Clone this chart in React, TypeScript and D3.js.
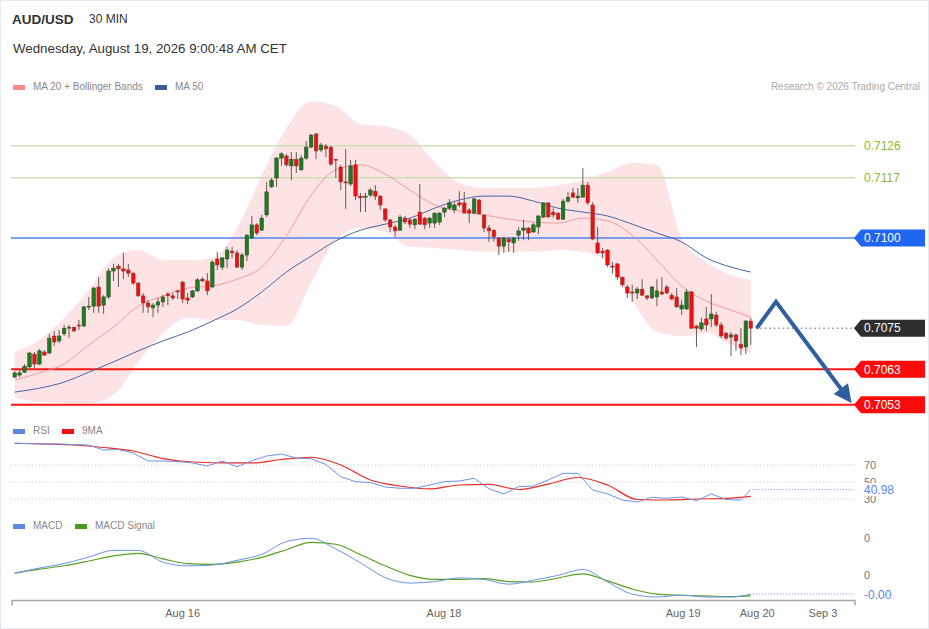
import { useEffect, useRef } from 'react';
import * as d3 from 'd3';

const FONT = "'Liberation Sans', Arial, sans-serif";

// 30 min candles, AUD/USD
const opens = [
  0.70608, 0.70614, 0.70622, 0.70637, 0.70673, 0.70645, 0.70679, 0.70676, 0.70724, 0.70710,
  0.70730, 0.70746, 0.70749, 0.70755, 0.70752, 0.70806, 0.70808, 0.70862, 0.70811, 0.70834,
  0.70907, 0.70921, 0.70913, 0.70910, 0.70901, 0.70873, 0.70837, 0.70817, 0.70803, 0.70811,
  0.70820, 0.70842, 0.70837, 0.70851, 0.70876, 0.70831, 0.70834, 0.70851, 0.70884, 0.70879,
  0.70862, 0.70941, 0.70918, 0.70941, 0.70963, 0.70958, 0.70918, 0.70952, 0.71000, 0.71037,
  0.71022, 0.71065, 0.71144, 0.71169, 0.71225, 0.71231, 0.71203, 0.71222, 0.71192, 0.71225,
  0.71256, 0.71293, 0.71248, 0.71259, 0.71256, 0.71222, 0.71200, 0.71158, 0.71152, 0.71206,
  0.71118, 0.71115, 0.71121, 0.71132, 0.71118, 0.71082, 0.71051, 0.71031, 0.71022, 0.71056,
  0.71051, 0.71037, 0.71073, 0.71056, 0.71042, 0.71042, 0.71045, 0.71073, 0.71084, 0.71079,
  0.71099, 0.71099, 0.71079, 0.71070, 0.71107, 0.71065, 0.71028, 0.71022, 0.71000, 0.70977,
  0.70997, 0.70986, 0.71008, 0.71022, 0.71028, 0.71017, 0.71031, 0.71059, 0.71099, 0.71073,
  0.71070, 0.71053, 0.71104, 0.71127, 0.71113, 0.71115, 0.71149, 0.71093, 0.70986, 0.70963,
  0.70966, 0.70921, 0.70927, 0.70890, 0.70862, 0.70848, 0.70845, 0.70856, 0.70837, 0.70831,
  0.70834, 0.70848, 0.70862, 0.70839, 0.70834, 0.70800, 0.70800, 0.70848, 0.70752, 0.70744,
  0.70772, 0.70772, 0.70783, 0.70755, 0.70732, 0.70721, 0.70727, 0.70701, 0.70693, 0.70766,
];
const highs = [
  0.70625, 0.70628, 0.70645, 0.70679, 0.70679, 0.70687, 0.70684, 0.70730, 0.70738, 0.70741,
  0.70755, 0.70755, 0.70749, 0.70769, 0.70808, 0.70834, 0.70862, 0.70890, 0.70839, 0.70915,
  0.70927, 0.70927, 0.70958, 0.70927, 0.70904, 0.70876, 0.70845, 0.70825, 0.70817, 0.70831,
  0.70839, 0.70848, 0.70845, 0.70853, 0.70879, 0.70845, 0.70853, 0.70887, 0.70890, 0.70901,
  0.70938, 0.70961, 0.70946, 0.70975, 0.70975, 0.70966, 0.70958, 0.71011, 0.71062, 0.71042,
  0.71065, 0.71158, 0.71169, 0.71228, 0.71242, 0.71237, 0.71242, 0.71242, 0.71234, 0.71273,
  0.71293, 0.71296, 0.71268, 0.71265, 0.71259, 0.71222, 0.71206, 0.71251, 0.71220, 0.71220,
  0.71127, 0.71127, 0.71141, 0.71149, 0.71121, 0.71084, 0.71053, 0.71037, 0.71065, 0.71062,
  0.71056, 0.71056, 0.71152, 0.71059, 0.71059, 0.71073, 0.71073, 0.71087, 0.71110, 0.71101,
  0.71132, 0.71130, 0.71084, 0.71113, 0.71110, 0.71065, 0.71037, 0.71025, 0.71003, 0.71003,
  0.71003, 0.71003, 0.71031, 0.71051, 0.71031, 0.71042, 0.71065, 0.71101, 0.71099, 0.71084,
  0.71073, 0.71110, 0.71130, 0.71141, 0.71141, 0.71197, 0.71158, 0.71101, 0.71031, 0.70972,
  0.70969, 0.70932, 0.70930, 0.70890, 0.70868, 0.70868, 0.70862, 0.70884, 0.70839, 0.70865,
  0.70884, 0.70890, 0.70868, 0.70845, 0.70859, 0.70825, 0.70856, 0.70851, 0.70755, 0.70775,
  0.70806, 0.70842, 0.70792, 0.70763, 0.70735, 0.70735, 0.70730, 0.70746, 0.70769, 0.70775,
];
const lows = [
  0.70606, 0.70608, 0.70620, 0.70634, 0.70634, 0.70642, 0.70668, 0.70673, 0.70696, 0.70704,
  0.70724, 0.70718, 0.70735, 0.70741, 0.70749, 0.70797, 0.70789, 0.70789, 0.70786, 0.70828,
  0.70879, 0.70862, 0.70884, 0.70890, 0.70868, 0.70834, 0.70789, 0.70789, 0.70777, 0.70789,
  0.70806, 0.70811, 0.70825, 0.70828, 0.70817, 0.70814, 0.70831, 0.70848, 0.70876, 0.70839,
  0.70859, 0.70910, 0.70910, 0.70915, 0.70944, 0.70915, 0.70910, 0.70935, 0.70997, 0.71008,
  0.71020, 0.71059, 0.71141, 0.71144, 0.71203, 0.71200, 0.71163, 0.71183, 0.71189, 0.71220,
  0.71254, 0.71222, 0.71242, 0.71228, 0.71203, 0.71169, 0.71135, 0.71082, 0.71146, 0.71107,
  0.71073, 0.71073, 0.71115, 0.71107, 0.71079, 0.71045, 0.71017, 0.71003, 0.71020, 0.71039,
  0.71028, 0.71025, 0.71037, 0.71025, 0.71028, 0.71028, 0.71037, 0.71059, 0.71079, 0.71070,
  0.71087, 0.71070, 0.71042, 0.71068, 0.71065, 0.71017, 0.70989, 0.70989, 0.70952, 0.70958,
  0.70961, 0.70958, 0.70992, 0.70994, 0.70994, 0.71014, 0.71011, 0.71056, 0.71059, 0.71056,
  0.71051, 0.71051, 0.71099, 0.71113, 0.71099, 0.71115, 0.71093, 0.70994, 0.70955, 0.70944,
  0.70918, 0.70899, 0.70882, 0.70862, 0.70831, 0.70820, 0.70828, 0.70837, 0.70825, 0.70828,
  0.70808, 0.70839, 0.70842, 0.70825, 0.70803, 0.70783, 0.70797, 0.70744, 0.70693, 0.70738,
  0.70738, 0.70749, 0.70749, 0.70718, 0.70713, 0.70668, 0.70682, 0.70670, 0.70673, 0.70699,
];
const closes = [
  0.70620, 0.70620, 0.70639, 0.70676, 0.70645, 0.70682, 0.70670, 0.70718, 0.70707, 0.70724,
  0.70746, 0.70749, 0.70738, 0.70752, 0.70806, 0.70808, 0.70859, 0.70808, 0.70834, 0.70907,
  0.70915, 0.70913, 0.70907, 0.70901, 0.70873, 0.70837, 0.70817, 0.70806, 0.70811, 0.70820,
  0.70834, 0.70837, 0.70831, 0.70848, 0.70828, 0.70825, 0.70851, 0.70882, 0.70879, 0.70851,
  0.70932, 0.70924, 0.70944, 0.70966, 0.70958, 0.70918, 0.70952, 0.71008, 0.71037, 0.71014,
  0.71056, 0.71130, 0.71163, 0.71225, 0.71237, 0.71206, 0.71222, 0.71203, 0.71225, 0.71256,
  0.71290, 0.71245, 0.71262, 0.71251, 0.71208, 0.71220, 0.71158, 0.71155, 0.71203, 0.71118,
  0.71113, 0.71118, 0.71135, 0.71118, 0.71093, 0.71051, 0.71031, 0.71020, 0.71059, 0.71045,
  0.71039, 0.71053, 0.71039, 0.71037, 0.71056, 0.71070, 0.71070, 0.71084, 0.71099, 0.71093,
  0.71093, 0.71070, 0.71070, 0.71110, 0.71068, 0.71028, 0.71020, 0.71003, 0.70977, 0.71000,
  0.70989, 0.71000, 0.71020, 0.71028, 0.71014, 0.71037, 0.71062, 0.71099, 0.71059, 0.71065,
  0.71053, 0.71104, 0.71115, 0.71115, 0.71118, 0.71149, 0.71099, 0.70997, 0.70958, 0.70958,
  0.70924, 0.70918, 0.70890, 0.70868, 0.70845, 0.70845, 0.70856, 0.70839, 0.70831, 0.70862,
  0.70851, 0.70842, 0.70845, 0.70828, 0.70806, 0.70811, 0.70848, 0.70746, 0.70746, 0.70761,
  0.70755, 0.70786, 0.70755, 0.70724, 0.70718, 0.70727, 0.70710, 0.70690, 0.70766, 0.70746,
];

// indicators read every 5 candles (0, 5, ... 145, 149)
const bbUpper = [
  0.70679, 0.70713, 0.70775, 0.70853, 0.70944, 0.70966, 0.70938, 0.70938, 0.70944, 0.71028, 0.71177,
  0.71310, 0.71385, 0.71372, 0.71321, 0.71315, 0.71290, 0.71214, 0.71155, 0.71141, 0.71141,
  0.71141, 0.71149, 0.71163, 0.71186, 0.71211, 0.71206, 0.71000, 0.70932, 0.70896, 0.70882,
];
const bbLower = [
  0.70549, 0.70538, 0.70535, 0.70535, 0.70558, 0.70651, 0.70732, 0.70775, 0.70769, 0.70769, 0.70755,
  0.70752, 0.70873, 0.70994, 0.71028, 0.71017, 0.70975, 0.70972, 0.70966, 0.70961, 0.70961,
  0.70961, 0.70966, 0.70961, 0.70930, 0.70825, 0.70735, 0.70724, 0.70732, 0.70699, 0.70676,
];
const ma20 = [
  0.70600, 0.70620, 0.70645, 0.70699, 0.70749, 0.70808, 0.70837, 0.70859, 0.70865, 0.70884, 0.70918,
  0.71006, 0.71121, 0.71192, 0.71206, 0.71180, 0.71135, 0.71093, 0.71076, 0.71065, 0.71053,
  0.71045, 0.71042, 0.71056, 0.71048, 0.71008, 0.70938, 0.70865, 0.70822, 0.70797, 0.70777,
];
const ma50 = [
  0.70566, 0.70577, 0.70594, 0.70622, 0.70651, 0.70682, 0.70710, 0.70735, 0.70766, 0.70800, 0.70848,
  0.70904, 0.70949, 0.70992, 0.71022, 0.71039, 0.71056, 0.71084, 0.71107, 0.71118, 0.71118,
  0.71104, 0.71084, 0.71073, 0.71062, 0.71039, 0.71014, 0.70989, 0.70944, 0.70918, 0.70904,
];
const macd = [
  0.00005, 0.00019, 0.00031, 0.00049, 0.00067, 0.00067, 0.00035, 0.00025, 0.00027, 0.00040, 0.00056,
  0.00091, 0.00100, 0.00071, 0.00033, -0.00007, -0.00022, -0.00018, -0.00008, -0.00012, -0.00025,
  -0.00014, -0.00001, 0.00015, -0.00019, -0.00052, -0.00060, -0.00055, -0.00060, -0.00060, -0.00052,
];
const macdSignal = [
  0.00005, 0.00016, 0.00025, 0.00038, 0.00052, 0.00059, 0.00044, 0.00031, 0.00029, 0.00035, 0.00048,
  0.00069, 0.00089, 0.00084, 0.00055, 0.00025, -0.00001, -0.00012, -0.00012, -0.00010, -0.00018,
  -0.00019, -0.00008, 0.00003, -0.00016, -0.00038, -0.00052, -0.00055, -0.00057, -0.00059, -0.00057,
];

// RSI read every 3 candles, its 9MA every 6
const rsi = [
  95.5, 95.3, 94.7, 94.7, 94.1, 93.5, 87.6, 88.2, 84.1, 74.7, 74.7, 74.1, 72.4, 68.8, 74.7, 68.0, 75.1,
  80.6, 82.9, 78.2, 77.3, 70.6, 56.2, 50.4, 49.4, 44.1, 42.6, 42.6, 46.5, 50.4, 51.2, 54.4, 42.1, 35.9,
  44.5, 45.3, 52.4, 60.2, 60.2, 40.6, 35.9, 28.8, 26.5, 32.0, 30.8, 32.4, 28.0, 35.9, 29.4, 28.8, 40.98,
];
const rsiMa = [
  95.5, 94.7, 93.5, 90.6, 86.5, 77.6, 73.5, 72.6, 72.4, 76.5, 79.1, 70.0, 52.4,
  45.3, 41.8, 46.5, 47.1, 41.2, 47.6, 55.3, 46.5, 29.4, 28.8, 30.0, 30.8, 33.2,
];

const resistLevels = [0.7126, 0.7117];
const pivotLevel = 0.71;
const supportLevels = [0.7063, 0.7053];
const rsiGrid = [70, 50, 30];
const macdTicks = [0.001, 0];

// projected path: candle index, price
const projection = [
  { i: 150.2, p: 0.70746 },
  { i: 154.1, p: 0.7082 },
  { i: 169.4, p: 0.70535 },
];

const xTicks = [
  { label: 'Aug 16', at: 34 },
  { label: 'Aug 18', at: 86.9 },
  { label: 'Aug 19', at: 135.3 },
  { label: 'Aug 20', at: 150.3 },
  { label: 'Sep 3', at: 163.6 },
];

const every = (step: number) => d3.range(0, 149, step).concat([149]);

export default function App() {
  const ref = useRef<SVGSVGElement | null>(null);

  useEffect(() => {
    if (!ref.current) return;
    const svg = d3.select(ref.current);
    svg.selectAll('*').remove();

    const W = 929;
    const H = 629;
    const plotLeft = 11;
    const plotRight = 855;

    const x = d3.scaleLinear().domain([0, 149]).range([14.7, 750.8]);
    const y = d3.scaleLinear().domain([0.7, 0.71]).range([593, 238]);
    const yRsi = d3.scaleLinear().domain([30, 70]).range([499, 465]);
    const yMacd = d3.scaleLinear().domain([0, 0.001]).range([575, 538.3]);

    svg.append('rect').attr('x', 0.5).attr('y', 0.5).attr('width', W - 1).attr('height', H - 1)
      .attr('fill', '#fff').attr('stroke', '#e4e9ee');

    // header
    svg.append('text').attr('x', 12).attr('y', 23.5).attr('font-size', 13.5).attr('font-weight', 'bold')
      .attr('fill', '#333').text('AUD/USD');
    svg.append('text').attr('x', 89).attr('y', 23).attr('font-size', 12).attr('fill', '#333').text('30 MIN');
    svg.append('text').attr('x', 13).attr('y', 53).attr('font-size', 13.3).attr('fill', '#333')
      .text('Wednesday, August 19, 2026 9:00:48 AM CET');

    const legend = (items: { label: string; color: string; x: number }[], ly: number) => {
      items.forEach(it => {
        svg.append('rect').attr('x', it.x).attr('y', ly - 5).attr('width', 12).attr('height', 5).attr('fill', it.color);
        svg.append('text').attr('x', it.x + 20).attr('y', ly).attr('font-size', 10).attr('fill', '#888').text(it.label);
      });
    };
    legend([
      { label: 'MA 20 + Bollinger Bands', color: '#f88a8a', x: 13 },
      { label: 'MA 50', color: '#3b5c99', x: 155 },
    ], 90);
    svg.append('text').attr('x', 920).attr('y', 90).attr('text-anchor', 'end').attr('font-size', 10)
      .attr('fill', '#aaa').text('Research \u00a9 2026 Trading Central');

    // bollinger band
    const bandIdx = every(5);
    const band = bandIdx.map((i, k) => ({ i, hi: bbUpper[k], lo: bbLower[k] }));
    svg.append('path').datum(band)
      .attr('fill', '#fde3e3')
      .attr('d', d3.area<any>().x(d => x(d.i)).y0(d => y(d.lo)).y1(d => y(d.hi)).curve(d3.curveMonotoneX));

    // levels
    const hline = (v: number, color: string, w: number) =>
      svg.append('line').attr('x1', plotLeft).attr('x2', plotRight).attr('y1', y(v)).attr('y2', y(v))
        .attr('stroke', color).attr('stroke-width', w);
    resistLevels.forEach(v => hline(v, '#cddfb6', 1.5));
    hline(pivotLevel, '#4d86ee', 1.5);
    supportLevels.forEach(v => hline(v, '#ff1414', 2));

    const maLine = d3.line<any>().x(d => x(d.i)).y(d => y(d.v)).curve(d3.curveMonotoneX);
    svg.append('path').datum(bandIdx.map((i, k) => ({ i, v: ma20[k] })))
      .attr('fill', 'none').attr('stroke', '#f59a9a').attr('stroke-width', 1).attr('d', maLine);
    svg.append('path').datum(bandIdx.map((i, k) => ({ i, v: ma50[k] })))
      .attr('fill', 'none').attr('stroke', '#4466a6').attr('stroke-width', 1).attr('d', maLine);

    // candles
    const candles = closes.map((c, i) => ({ i, o: opens[i], h: highs[i], l: lows[i], c }));
    const g = svg.append('g');
    g.selectAll('line.wick').data(candles).enter().append('line')
      .attr('x1', d => x(d.i)).attr('x2', d => x(d.i))
      .attr('y1', d => y(d.h)).attr('y2', d => y(d.l))
      .attr('stroke', '#6a5858').attr('stroke-width', 1);
    g.selectAll('rect.body').data(candles).enter().append('rect')
      .attr('x', d => x(d.i) - 1.8).attr('width', 3.6)
      .attr('y', d => y(Math.max(d.o, d.c)))
      .attr('height', d => Math.max(1, Math.abs(y(d.o) - y(d.c))))
      .attr('fill', d => d.c >= d.o ? '#1f7a1f' : '#ee1010')
      .attr('stroke', d => d.c >= d.o ? '#2c4a2c' : '#8c3a3a').attr('stroke-width', 0.5);

    // last price
    const last = closes[closes.length - 1];
    svg.append('line').attr('x1', x(149) + 5).attr('x2', plotRight).attr('y1', y(last)).attr('y2', y(last))
      .attr('stroke', '#555').attr('stroke-width', 1).attr('stroke-dasharray', '1.5,3');

    const tag = (v: number, fill: string) => {
      const ty = y(v);
      svg.append('path')
        .attr('d', `M${plotRight - 1},${ty} L${plotRight + 6},${ty - 8.5} L925,${ty - 8.5} L925,${ty + 8.5} L${plotRight + 6},${ty + 8.5} Z`)
        .attr('fill', fill);
      svg.append('text').attr('x', 864).attr('y', ty + 4.2).attr('font-size', 12).attr('fill', '#fff').text(v.toFixed(4));
    };
    resistLevels.forEach(v =>
      svg.append('text').attr('x', 864).attr('y', y(v) + 4.2).attr('font-size', 12).attr('fill', '#8fb52b').text(v.toFixed(4)));
    tag(pivotLevel, '#1f66f2');
    tag(last, '#2e2e2e');
    supportLevels.forEach(v => tag(v, '#ff0a0a'));

    // projection arrow
    const pts = projection.map(d => [x(d.i), y(d.p)] as [number, number]);
    const [ax, ay] = pts[pts.length - 1];
    const [bx, by] = pts[pts.length - 2];
    const len = Math.hypot(ax - bx, ay - by);
    const ux = (ax - bx) / len, uy = (ay - by) / len;
    const shaft = pts.slice(0, -1).concat([[ax - ux * 12, ay - uy * 12]]);
    svg.append('path').datum(shaft).attr('fill', 'none').attr('stroke', '#2f5f9f').attr('stroke-width', 4)
      .attr('stroke-linejoin', 'miter').attr('d', d3.line());
    svg.append('path')
      .attr('d', `M${ax},${ay} L${ax - ux * 18 - uy * 9},${ay - uy * 18 + ux * 9} L${ax - ux * 18 + uy * 9},${ay - uy * 18 - ux * 9} Z`)
      .attr('fill', '#2f5f9f');

    // RSI panel
    legend([
      { label: 'RSI', color: '#5b86e5', x: 13 },
      { label: '9MA', color: '#ee1111', x: 62 },
    ], 434);
    rsiGrid.forEach(v => {
      svg.append('line').attr('x1', plotLeft).attr('x2', plotRight).attr('y1', yRsi(v)).attr('y2', yRsi(v))
        .attr('stroke', '#c4c4c4').attr('stroke-dasharray', '1,2.5');
      svg.append('text').attr('x', 864).attr('y', yRsi(v) + 4).attr('font-size', 11).attr('fill', '#777').text(v);
    });
    const rsiIdx = every(3);
    const rsiMaIdx = every(6);
    svg.append('path').datum(rsiMaIdx.map((i, k) => ({ i, v: rsiMa[k] })))
      .attr('fill', 'none').attr('stroke', '#ee2a22').attr('stroke-width', 1.2)
      .attr('d', d3.line<any>().x(d => x(d.i)).y(d => yRsi(d.v)).curve(d3.curveMonotoneX));
    svg.append('path').datum(rsiIdx.map((i, k) => ({ i, v: rsi[k] })))
      .attr('fill', 'none').attr('stroke', '#6b93ea').attr('stroke-width', 1)
      .attr('d', d3.line<any>().x(d => x(d.i)).y(d => yRsi(d.v)));
    const lastRsi = rsi[rsi.length - 1];
    svg.append('line').attr('x1', x(149) + 2).attr('x2', plotRight).attr('y1', yRsi(lastRsi)).attr('y2', yRsi(lastRsi))
      .attr('stroke', '#6b93ea').attr('stroke-dasharray', '1,2');
    svg.append('rect').attr('x', 859).attr('y', yRsi(lastRsi) - 6.5).attr('width', 36).attr('height', 13).attr('fill', '#fff');
    svg.append('text').attr('x', 864).attr('y', yRsi(lastRsi) + 4.5).attr('font-size', 12).attr('fill', '#5b86e5')
      .text(lastRsi.toFixed(2));

    // MACD panel
    legend([
      { label: 'MACD', color: '#5b86e5', x: 13 },
      { label: 'MACD Signal', color: '#4c9a1c', x: 75 },
    ], 529);
    macdTicks.forEach(v =>
      svg.append('text').attr('x', 864).attr('y', yMacd(v) + 4).attr('font-size', 11).attr('fill', '#777')
        .text(d3.format('.0f')(v)));
    const mLine = d3.line<any>().x(d => x(d.i)).y(d => yMacd(d.v)).curve(d3.curveMonotoneX);
    svg.append('path').datum(bandIdx.map((i, k) => ({ i, v: macdSignal[k] })))
      .attr('fill', 'none').attr('stroke', '#55a020').attr('stroke-width', 1.1).attr('d', mLine);
    svg.append('path').datum(bandIdx.map((i, k) => ({ i, v: macd[k] })))
      .attr('fill', 'none').attr('stroke', '#6b93ea').attr('stroke-width', 1).attr('d', mLine);
    const lastMacd = macd[macd.length - 1];
    svg.append('line').attr('x1', x(149) + 2).attr('x2', plotRight).attr('y1', yMacd(lastMacd)).attr('y2', yMacd(lastMacd))
      .attr('stroke', '#6b93ea').attr('stroke-dasharray', '1,2');
    svg.append('text').attr('x', 864).attr('y', yMacd(lastMacd) + 4.5).attr('font-size', 12).attr('fill', '#5b86e5')
      .text(lastMacd.toFixed(2));

    // x axis
    const axisY = 600.5;
    svg.append('path').attr('d', `M${plotLeft + 1},${axisY + 5} V${axisY} H${plotRight} V${axisY + 5}`)
      .attr('fill', 'none').attr('stroke', '#a8a8a8').attr('stroke-width', 1.5);
    xTicks.forEach(t =>
      svg.append('text').attr('x', x(t.at)).attr('y', 617).attr('text-anchor', 'middle').attr('font-size', 11)
        .attr('fill', '#666').text(t.label));
  }, []);

  return (
    <svg
      ref={ref}
      width={929}
      height={629}
      style={{ position: 'absolute', left: 0, top: 0, fontFamily: FONT }}
    />
  );
}
